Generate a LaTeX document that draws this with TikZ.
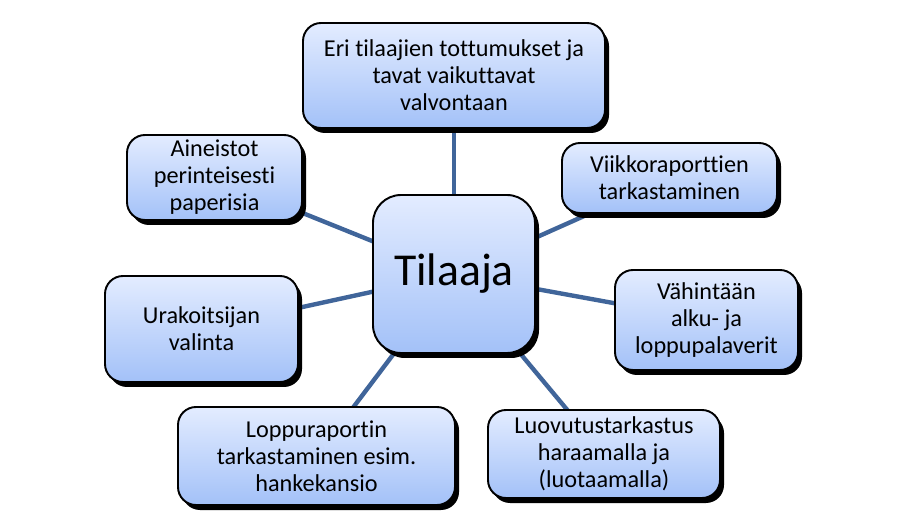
\documentclass[tikz,border=0pt]{standalone}
\usepackage{fontspec}
\setmainfont{Carlito}[Ligatures=NoCommon]
\usetikzlibrary{shadows, backgrounds}
\definecolor{linkcol}{HTML}{40659A}
\definecolor{topcol}{HTML}{E3ECFF}
\definecolor{botcol}{HTML}{A3C1F8}
\tikzset{
  inode/.style={rectangle, draw=black, line width=1.1pt, rounded corners=0.36cm,
    top color=topcol, bottom color=botcol, align=center, inner sep=2pt,
    drop shadow={shadow xshift=0.08cm, shadow yshift=-0.1cm, fill=black, opacity=1}},
  cnode/.style={inode, rounded corners=0.56cm, font=\fontsize{26}{30}\selectfont},
  link/.style={draw=linkcol, line width=2.5pt},
}

\begin{document}
\begin{tikzpicture}[font=\fontsize{13.8}{15.4}\selectfont]
  \useasboundingbox (0,0) rectangle (18,10.5);
  \node[cnode, minimum width=3.24cm, minimum height=3.16cm] (T)  at (9.08, 5.02) {Tilaaja};
  \node[inode, minimum width=6.04cm, minimum height=2.10cm] (E)  at (9.08, 8.99) {Eri tilaajien tottumukset ja\\tavat vaikuttavat\\valvontaan};
  \node[inode, minimum width=3.50cm, minimum height=1.70cm] (A)  at (4.29, 6.95) {Aineistot\\perinteisesti\\paperisia};
  \node[inode, minimum width=4.30cm, minimum height=1.40cm] (V)  at (13.39,6.94) {Viikkoraporttien\\tarkastaminen};
  \node[inode, minimum width=3.66cm, minimum height=2.00cm] (Vh) at (14.13,4.10) {Vähintään\\alku- ja\\loppupalaverit};
  \node[inode, minimum width=3.86cm, minimum height=2.12cm] (U)  at (4.03, 3.92) {Urakoitsijan\\valinta};
  \node[inode, minimum width=5.54cm, minimum height=1.96cm] (L)  at (6.33, 1.38) {Loppuraportin\\tarkastaminen esim.\\hankekansio};
  \node[inode, minimum width=4.64cm, minimum height=1.76cm] (Lu) at (12.08,1.42) {Luovutustarkastus\\haraamalla ja\\(luotaamalla)};
  \begin{scope}[on background layer]
    \draw[link] (T.center) -- (E.center);
    \draw[link] (T.center) -- (A.center);
    \draw[link] (T.center) -- (V.center);
    \draw[link] (T.center) -- (Vh.center);
    \draw[link] (T.center) -- (U.center);
    \draw[link] (T.center) -- (L.center);
    \draw[link] (T.center) -- (Lu.center);
  \end{scope}
\end{tikzpicture}
\end{document}
